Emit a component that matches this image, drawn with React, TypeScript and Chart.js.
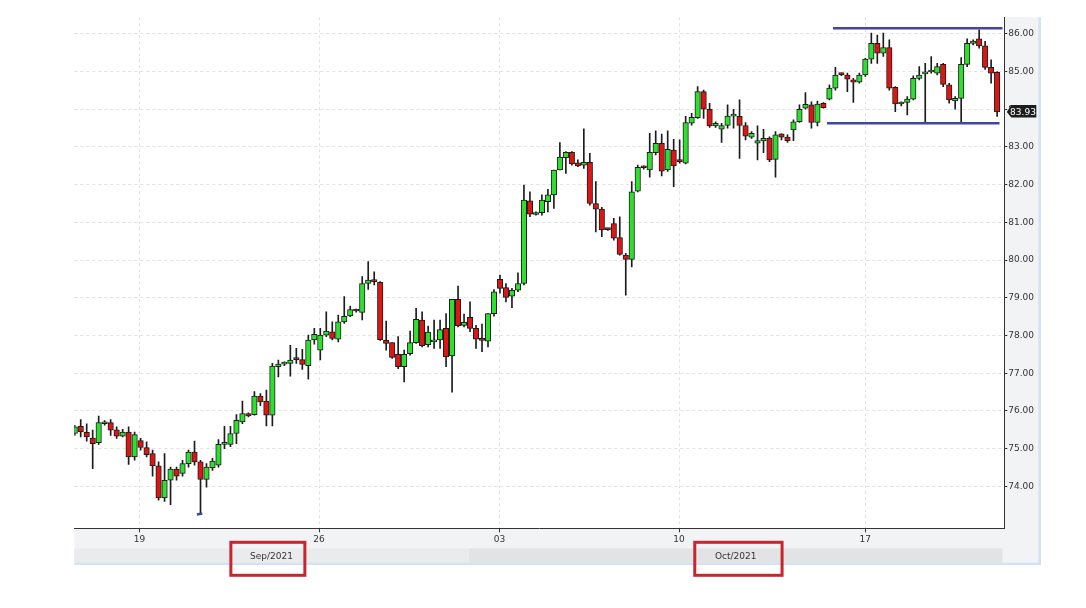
import React, { useEffect, useRef } from 'react';
import { Chart, registerables } from 'chart.js';

Chart.register(...registerables);

// ---- data (4-hour candles, Sep 17 – Oct 22, 2021) ----
const opens = [
  75.40, 75.59, 75.43, 75.28, 75.16, 75.66, 75.69, 75.50, 75.33, 75.44,
  74.78, 75.21, 75.03, 74.87, 74.54, 73.69, 74.16, 74.46, 74.34, 74.60,
  74.91, 74.65, 74.18, 74.49, 74.56, 75.11, 75.11, 75.40, 75.71, 75.93,
  75.90, 76.39, 76.26, 75.89, 77.17, 77.24, 77.26, 77.37, 77.36, 77.20,
  77.88, 77.61, 78.01, 78.10, 77.90, 78.36, 78.52, 78.68, 78.61, 79.38,
  79.46, 79.41, 77.87, 77.81, 77.50, 77.17, 77.52, 77.81, 78.41, 77.76,
  77.83, 77.88, 78.19, 77.46, 78.96, 78.27, 78.48, 78.19, 77.90, 77.85,
  78.58, 79.49, 79.27, 79.04, 79.20, 79.38, 81.57, 81.21, 81.26, 81.55,
  81.73, 82.39, 82.72, 82.86, 82.58, 82.52, 82.59, 81.50, 81.35, 80.82,
  80.97, 80.60, 80.13, 80.02, 81.83, 82.46, 82.39, 82.85, 83.10, 82.39,
  82.92, 82.66, 82.57, 83.63, 83.78, 84.47, 84.00, 83.56, 83.47, 83.57,
  83.82, 83.81, 83.57, 83.26, 83.10, 83.16, 83.23, 82.67, 83.35, 83.26,
  83.45, 83.67, 84.03, 84.12, 83.65, 84.16, 84.27, 84.56, 84.94, 84.91,
  84.78, 84.72, 84.91, 85.33, 85.75, 85.49, 85.64, 84.58, 84.14, 84.18,
  84.27, 84.82, 84.94, 84.99, 84.96, 85.19, 84.65, 84.22, 84.29, 85.19,
  85.75, 85.87, 85.68, 85.11, 84.98,
];
const highs = [
  75.62, 75.77, 75.66, 75.49, 75.86, 75.74, 75.77, 75.58, 75.51, 75.58,
  75.44, 75.27, 75.18, 74.96, 74.65, 74.87, 74.51, 74.51, 74.69, 74.96,
  75.20, 74.69, 74.60, 74.74, 75.24, 75.59, 75.59, 75.90, 76.26, 75.95,
  76.51, 76.46, 76.55, 77.26, 77.35, 77.30, 77.74, 77.66, 77.63, 78.01,
  78.19, 78.19, 78.63, 78.36, 78.54, 79.03, 78.78, 78.70, 79.56, 79.96,
  79.69, 79.43, 78.38, 77.81, 77.97, 77.61, 78.12, 78.72, 78.63, 78.25,
  78.41, 78.41, 78.58, 78.96, 79.31, 78.57, 78.89, 78.27, 78.30, 78.58,
  79.22, 79.60, 79.38, 79.25, 79.66, 81.99, 81.81, 81.28, 81.73, 81.88,
  82.39, 83.12, 82.88, 82.88, 82.66, 83.48, 82.83, 82.08, 81.40, 80.84,
  81.11, 81.15, 80.18, 82.08, 82.52, 82.50, 83.36, 83.43, 83.34, 83.43,
  83.20, 83.19, 83.81, 83.89, 84.60, 84.51, 84.16, 83.67, 83.63, 84.12,
  84.00, 84.25, 83.65, 83.41, 83.56, 83.47, 83.27, 83.41, 83.35, 83.32,
  83.72, 84.12, 84.44, 84.20, 84.22, 84.18, 84.65, 85.11, 84.96, 84.96,
  84.82, 84.96, 85.35, 86.02, 85.97, 86.02, 85.84, 84.60, 84.20, 84.34,
  84.89, 85.13, 85.22, 85.40, 85.22, 85.22, 84.69, 84.34, 85.37, 85.87,
  85.84, 86.11, 85.80, 85.31, 85.00,
];
const lows = [
  75.35, 75.31, 75.20, 74.47, 75.11, 75.62, 75.35, 75.27, 75.31, 74.58,
  74.69, 74.96, 74.78, 74.27, 73.63, 73.60, 73.51, 74.16, 74.27, 74.51,
  74.56, 73.28, 73.98, 74.42, 74.51, 75.00, 75.05, 75.13, 75.66, 75.84,
  75.89, 76.14, 75.60, 75.60, 76.90, 77.20, 76.92, 77.26, 77.10, 76.84,
  77.77, 77.35, 77.97, 77.88, 77.83, 78.32, 78.50, 78.62, 78.41, 79.22,
  79.34, 77.87, 77.61, 77.39, 77.12, 76.77, 77.48, 77.79, 77.70, 77.70,
  77.66, 77.66, 77.17, 76.50, 78.23, 78.23, 78.10, 77.66, 77.57, 77.70,
  78.51, 79.12, 78.89, 78.74, 79.16, 79.34, 81.15, 81.19, 81.19, 81.28,
  81.37, 82.39, 82.30, 82.52, 82.48, 82.43, 81.46, 80.75, 80.62, 80.79,
  80.53, 80.13, 79.07, 79.82, 81.81, 82.41, 82.20, 82.79, 82.23, 82.35,
  81.95, 82.57, 82.55, 83.58, 83.76, 83.76, 83.52, 83.52, 83.12, 83.50,
  83.50, 82.70, 83.19, 83.23, 82.66, 82.85, 82.61, 82.20, 83.19, 83.12,
  83.17, 83.65, 84.00, 83.50, 83.56, 84.03, 84.25, 84.51, 84.89, 84.47,
  84.18, 84.69, 84.87, 85.22, 85.22, 85.40, 84.51, 83.94, 84.09, 83.85,
  84.25, 84.78, 83.67, 84.96, 84.91, 84.60, 84.16, 84.00, 83.67, 85.13,
  85.71, 85.62, 85.06, 84.69, 83.81,
];
const closes = [
  75.58, 75.44, 75.31, 75.13, 75.69, 75.68, 75.49, 75.33, 75.44, 74.78,
  75.37, 75.03, 74.84, 74.54, 73.69, 74.16, 74.46, 74.27, 74.60, 74.91,
  74.65, 74.18, 74.51, 74.67, 75.11, 75.13, 75.40, 75.75, 75.93, 75.87,
  76.39, 76.24, 75.89, 77.19, 77.24, 77.27, 77.35, 77.36, 77.23, 77.88,
  78.03, 78.01, 78.12, 77.92, 78.36, 78.51, 78.69, 78.65, 79.38, 79.47,
  79.43, 77.89, 77.79, 77.42, 77.17, 77.50, 77.81, 78.43, 77.73, 78.09,
  77.86, 78.16, 77.43, 78.96, 78.26, 78.35, 78.19, 77.90, 77.87, 78.58,
  79.16, 79.25, 79.01, 79.20, 79.38, 81.59, 81.22, 81.26, 81.59, 81.73,
  82.39, 82.73, 82.86, 82.55, 82.50, 82.59, 81.50, 81.35, 80.80, 80.81,
  80.58, 80.15, 80.02, 81.81, 82.46, 82.45, 82.86, 83.10, 82.36, 82.94,
  82.50, 82.61, 83.65, 83.79, 84.47, 84.00, 83.56, 83.63, 83.57, 83.82,
  83.83, 83.57, 83.29, 83.36, 83.17, 83.23, 82.66, 83.32, 83.26, 83.17,
  83.67, 84.00, 84.13, 83.65, 84.14, 84.04, 84.56, 84.91, 84.92, 84.80,
  84.72, 84.91, 85.33, 85.75, 85.49, 85.64, 84.56, 84.14, 84.15, 84.27,
  84.82, 84.91, 84.99, 85.00, 85.13, 84.66, 84.25, 84.29, 85.19, 85.75,
  85.81, 85.68, 85.11, 84.96, 83.93,
];

// x-axis day ticks (candle-index positions) and labels
const dayTickIdx = [10.8, 40.8, 70.9, 100.9, 132];
const dayTickLabels = ['19', '26', '03', '10', '17'];
// y-axis tick values
const yTickValues = [74, 75, 76, 77, 78, 79, 80, 81, 82, 83, 84, 85, 86];
// month band
const months = ['Sep/2021', 'Oct/2021'];
const monthStartIdx = [-0.07, 65.8];
const monthEndIdx = [65.8, 154.9];
// drawn trend lines (candle index, price)
const resistanceIdx = [126.6, 154.9];
const resistanceVal = [86.15, 86.15];
const supportIdx = [125.6, 154.4];
const supportVal = [83.63, 83.63];
const markIdx = [20.4, 21.3];
const markVal = [73.25, 73.28];

// ---- styling / layout config ----
const W = 1086;
const H = 608;
const FONT = 'DejaVu Sans';
const GREEN = '#2fdf2f';
const RED = '#dc1515';
const OUTLINE = '#1c1c1c';
const BLUE = '#3f47a3';
const PANEL = '#f2f3f5';
const monthBandColors = ['#eaebed', '#e2e3e5'];
const boxOffsets = [
  { left: -40.7, right: 33.3 },
  { left: -40.9, right: 46.4 },
];

const framePlugin = {
  id: 'frame',
  beforeDraw(chart: any) {
    const { ctx, chartArea: a, scales } = chart;
    const xs = scales.x;
    ctx.save();
    ctx.fillStyle = '#ffffff';
    ctx.fillRect(0, 0, chart.width, chart.height);
    const panelRight = a.right + 34;
    const panelBottom = a.bottom + 34.4;
    ctx.fillStyle = PANEL;
    ctx.fillRect(a.right, a.top, panelRight - a.right, panelBottom - a.top);
    ctx.fillRect(a.left, a.bottom, panelRight - a.left, panelBottom - a.bottom);
    // month band
    for (let i = 0; i < months.length; i++) {
      const x0 = xs.getPixelForValue(monthStartIdx[i]);
      const x1 = xs.getPixelForValue(monthEndIdx[i]);
      ctx.fillStyle = monthBandColors[i];
      ctx.fillRect(x0, a.bottom + 20, x1 - x0, panelBottom - (a.bottom + 20));
    }
    // light blue frame edges
    ctx.fillStyle = '#d3e2f2';
    ctx.fillRect(panelRight, a.top, 2.7, panelBottom + 2.3 - a.top);
    ctx.fillRect(a.left, panelBottom, panelRight + 2.7 - a.left, 2.3);
    ctx.restore();
  },
  afterDraw(chart: any) {
    const { ctx, chartArea: a, scales } = chart;
    const xs = scales.x;
    const ys = scales.y;
    ctx.save();
    // month labels + red annotation boxes
    ctx.font = `9px "${FONT}"`;
    ctx.textAlign = 'center';
    ctx.textBaseline = 'middle';
    for (let i = 0; i < months.length; i++) {
      const x0 = xs.getPixelForValue(monthStartIdx[i]);
      const x1 = xs.getPixelForValue(monthEndIdx[i]);
      const cx = (x0 + x1) / 2;
      ctx.fillStyle = '#333333';
      ctx.fillText(months[i], cx, a.bottom + 28.7);
      ctx.strokeStyle = '#c9252c';
      ctx.lineWidth = 3;
      const bl = cx + boxOffsets[i].left;
      const br = cx + boxOffsets[i].right;
      ctx.strokeRect(bl, a.bottom + 14, br - bl, 33);
    }
    // last price tag
    const last = closes[closes.length - 1];
    const py = ys.getPixelForValue(last);
    const tx = a.right + 2.5;
    ctx.fillStyle = '#1d1d1d';
    ctx.beginPath();
    ctx.moveTo(tx, py);
    ctx.lineTo(tx + 4.5, py - 7);
    ctx.lineTo(a.right + 32, py - 7);
    ctx.lineTo(a.right + 32, py + 5.5);
    ctx.lineTo(tx + 4.5, py + 5.5);
    ctx.closePath();
    ctx.fill();
    ctx.fillStyle = '#ffffff';
    ctx.textAlign = 'left';
    ctx.fillText(last.toFixed(2), a.right + 5.8, py + 0.5);
    ctx.restore();
  },
};

export default function App() {
  const ref = useRef<HTMLCanvasElement | null>(null);

  useEffect(() => {
    document.body.style.margin = '0';
    const canvas = ref.current;
    if (!canvas) return;

    const bodyData = opens.map((o, i) => ({ x: i, y: [o, closes[i]] }));
    const wickData = lows.map((l, i) => ({ x: i, y: [l, highs[i]] }));
    const bodyColors = opens.map((o, i) => (closes[i] >= o ? GREEN : RED));

    const chart = new Chart(canvas, {
      type: 'bar',
      data: {
        datasets: [
          {
            type: 'line',
            data: resistanceIdx.map((x, i) => ({ x, y: resistanceVal[i] })),
            borderColor: BLUE,
            borderWidth: 2.5,
            pointRadius: 0,
            order: 0,
          } as any,
          {
            type: 'line',
            data: supportIdx.map((x, i) => ({ x, y: supportVal[i] })),
            borderColor: BLUE,
            borderWidth: 2.5,
            pointRadius: 0,
            order: 0,
          } as any,
          {
            type: 'line',
            data: markIdx.map((x, i) => ({ x, y: markVal[i] })),
            borderColor: BLUE,
            borderWidth: 2.5,
            pointRadius: 0,
            order: 0,
          } as any,
          {
            type: 'bar',
            data: bodyData,
            backgroundColor: bodyColors,
            borderColor: OUTLINE,
            borderWidth: 1,
            borderSkipped: false,
            barThickness: 5.5,
            minBarLength: 2,
            grouped: false,
            order: 1,
          } as any,
          {
            type: 'bar',
            data: wickData,
            backgroundColor: OUTLINE,
            borderWidth: 0,
            barThickness: 1,
            grouped: false,
            order: 2,
          } as any,
        ],
      },
      options: {
        animation: false,
        responsive: false,
        devicePixelRatio: 1,
        layout: { padding: { left: 74.3, top: 17.3, right: 0, bottom: 0 } },
        plugins: {
          legend: { display: false },
          tooltip: { enabled: false },
        },
        scales: {
          x: {
            type: 'linear',
            position: 'bottom',
            min: -0.07,
            max: 155.2,
            offset: false,
            afterBuildTicks: (s: any) => {
              s.ticks = dayTickIdx.map((v) => ({ value: v }));
            },
            afterFit: (s: any) => {
              s.height = H - 528.3;
            },
            ticks: {
              autoSkip: false,
              maxRotation: 0,
              padding: 2,
              color: '#333333',
              font: { family: FONT, size: 9 },
              callback: (_v: any, i: number) => dayTickLabels[i],
            },
            grid: {
              color: '#e2e2e2',
              offset: false,
              tickLength: 4,
              tickColor: '#333333',
            },
            border: { display: true, color: '#333333', width: 1, dash: [3, 3] },
          },
          y: {
            type: 'linear',
            position: 'right',
            min: 72.886,
            max: 86.44,
            beginAtZero: false,
            afterBuildTicks: (s: any) => {
              s.ticks = yTickValues.map((v) => ({ value: v }));
            },
            afterFit: (s: any) => {
              s.width = W - 1004.3;
            },
            ticks: {
              padding: 1,
              color: '#333333',
              font: { family: FONT, size: 9 },
              callback: (v: any) => Number(v).toFixed(2),
            },
            grid: {
              color: '#e2e2e2',
              tickLength: 3,
              tickColor: '#333333',
            },
            border: { display: true, color: '#333333', width: 1, dash: [3, 3] },
          },
        },
      } as any,
      plugins: [framePlugin],
    });

    return () => chart.destroy();
  }, []);

  return (
    <div style={{ width: W, height: H }}>
      <canvas ref={ref} width={W} height={H} style={{ display: 'block' }} />
    </div>
  );
}
